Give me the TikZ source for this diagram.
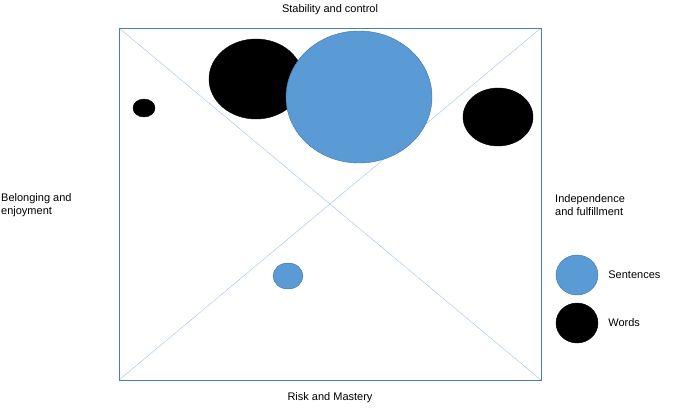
\documentclass[tikz,border=0pt]{standalone}
\usepackage{fontspec}
\setmainfont{Liberation Sans}
\usepackage{tikz}
\usetikzlibrary{shapes.geometric,positioning}
\definecolor{framecol}{HTML}{4A7EBB}
\definecolor{diagcol}{HTML}{9DC3E6}
\definecolor{sentcol}{HTML}{5B9BD5}
\definecolor{sentedge}{HTML}{41719C}
\tikzset{
  sentence/.style={ellipse,draw=sentedge,fill=sentcol,inner sep=0pt},
  word/.style={ellipse,draw=black,fill=black,inner sep=0pt},
  axislabel/.style={font=\fontsize{11}{13}\selectfont,align=left,inner sep=0pt}
}
\begin{document}
\begin{tikzpicture}[x=1pt,y=1pt,yscale=-1]
  \useasboundingbox (0,0) rectangle (687,408);
  % frame and diagonals
  \coordinate (tl) at (119,28);
  \coordinate (tr) at (541,28);
  \coordinate (bl) at (119,380);
  \coordinate (br) at (541,380);
  \draw[diagcol] (tl) -- (br);
  \draw[diagcol] (tr) -- (bl);
  \draw[framecol,line width=0.8pt] (tl) rectangle (br);
  % bubbles
  \node[word,minimum width=94pt,minimum height=80pt] (w1) at (256,79) {};
  \node[sentence,minimum width=146pt,minimum height=132pt] (s1) at (359,97) {};
  \node[word,minimum width=22pt,minimum height=18pt] (w2) at (144,108) {};
  \node[word,minimum width=70pt,minimum height=58pt] (w3) at (498,117) {};
  \node[sentence,minimum width=30pt,minimum height=26pt] (s2) at (288,276) {};
  % axis labels
  \node[axislabel] (top) at (330,10) {Stability and control};
  \node[axislabel] (bottom) at (330,398) {Risk and Mastery};
  \node[axislabel,anchor=west] (left) at (1,205) {Belonging and\\enjoyment};
  \node[axislabel,anchor=west] (right) at (555,205) {Independence\\and fulfillment};
  % legend
  \node[sentence,minimum width=42pt,minimum height=40pt] (legs) at (577,275) {};
  \node[word,minimum width=42pt,minimum height=40pt] (legw) at (577,323) {};
  \node[axislabel,right=10pt of legs] (legstext) {Sentences};
  \node[axislabel,right=10pt of legw] (legwtext) {Words};
\end{tikzpicture}
\end{document}
